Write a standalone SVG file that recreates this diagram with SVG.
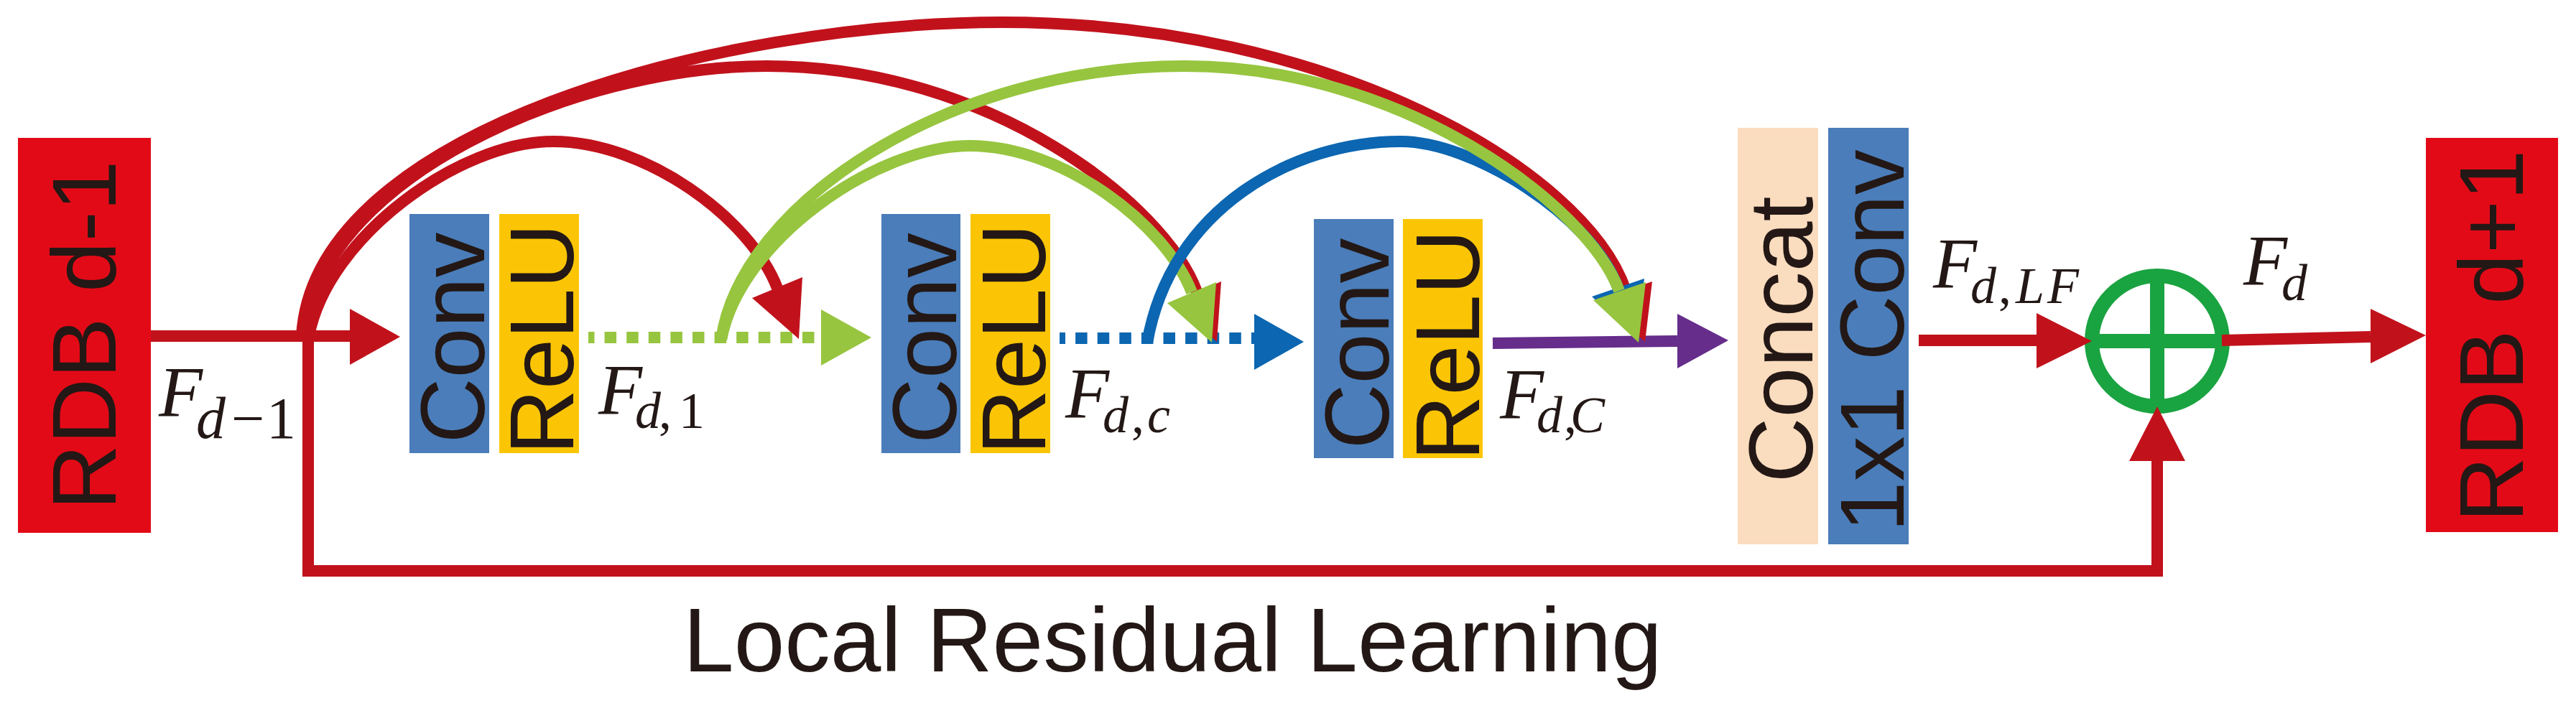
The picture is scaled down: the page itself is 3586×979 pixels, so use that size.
<svg xmlns="http://www.w3.org/2000/svg" width="3586" height="979" viewBox="0 0 3586 979">
<style>
.bred{fill:#E30A17}
.conv{fill:#4A7DBA}
.relu{fill:#FBC505}
.cat{fill:#FADCBE}
.lbl{font-family:"Liberation Sans",Arial,sans-serif;font-size:126px;fill:#231815}
.big{font-size:127px}
.m{font-family:"Liberation Serif","Times New Roman",serif;font-style:italic;fill:#231815;font-size:100px}
.s{font-size:72px}
.s2{font-size:82px}
.u{font-style:normal}
.cr{fill:none;stroke:#C1121C;stroke-width:16}
.cg{fill:none;stroke:#97C53F;stroke-width:16}
.cb{fill:none;stroke:#0C66B1;stroke-width:16}
.cp{fill:none;stroke:#662D8B;stroke-width:16}
.dot{stroke-dasharray:16.5 14.1}
.ar{fill:#C1121C}
.ag{fill:#97C53F}
.ab{fill:#0C66B1}
.ap{fill:#662D8B}
.sum{fill:none;stroke:#1AA341;stroke-width:20}
</style>

<g id="rdb-prev">
<rect class="bred" x="25" y="192" width="185" height="550"/>
<text class="lbl big" text-anchor="middle" transform="translate(161,467) rotate(-90)">RDB d-1</text>
</g>

<g id="conv1">
<rect class="conv" x="570" y="298" width="111" height="333"/>
<text class="lbl" text-anchor="middle" transform="translate(674,470.5) rotate(-90)">Conv</text>
</g>
<g id="relu1">
<rect class="relu" x="695" y="298" width="111" height="333"/>
<text class="lbl" text-anchor="middle" transform="translate(798,472) rotate(-90)">ReLU</text>
</g>

<g id="conv2">
<rect class="conv" x="1227" y="298" width="110" height="333"/>
<text class="lbl" text-anchor="middle" transform="translate(1331,471) rotate(-90)">Conv</text>
</g>
<g id="relu2">
<rect class="relu" x="1351" y="298" width="111" height="333"/>
<text class="lbl" text-anchor="middle" transform="translate(1455,472) rotate(-90)">ReLU</text>
</g>

<g id="conv3">
<rect class="conv" x="1829" y="305" width="111" height="333"/>
<text class="lbl" text-anchor="middle" transform="translate(1933,478.5) rotate(-90)">Conv</text>
</g>
<g id="relu3">
<rect class="relu" x="1953" y="305" width="111" height="333"/>
<text class="lbl" text-anchor="middle" transform="translate(2059,480.5) rotate(-90)">ReLU</text>
</g>

<g id="concat">
<rect class="cat" x="2419" y="178" width="112" height="580"/>
<text class="lbl" text-anchor="middle" transform="translate(2523,473) rotate(-90)">Concat</text>
</g>
<g id="conv1x1">
<rect class="conv" x="2545" y="178" width="112" height="580"/>
<text class="lbl" text-anchor="middle" transform="translate(2650,474.5) rotate(-90)">1x1 Conv</text>
</g>

<g id="sum">
<circle class="sum" cx="3003" cy="475" r="91"/>
<path class="sum" d="M3003,384 V566 M2912,475 H3094"/>
</g>

<g id="rdb-next">
<rect class="bred" x="3377" y="192" width="184" height="549"/>
<text class="lbl big" text-anchor="middle" transform="translate(3512,468) rotate(-90)">RDB d+1</text>
</g>

<g id="connectors">
<path class="cr" d="M210,468 H487"/>
<polygon class="ar" points="487,430 557,469 487,508"/>
<path class="cr" d="M429,468 V795 H3003 V642"/>
<polygon class="ar" points="2964,642 3042,642 3003,566"/>
<path class="cr" d="M2671,474 H2835"/>
<polygon class="ar" points="2835,436 2912,475 2835,513"/>
<path class="cr" d="M3093,474 L3300,469"/>
<polygon class="ar" points="3300,430 3377,467 3300,506"/>
<path class="cg dot" stroke-dashoffset="8" d="M819,470 H1143"/>
<polygon class="ag" points="1143,431 1213,470 1143,509"/>
<path class="cb dot" stroke-dashoffset="8.5" d="M1475,471 H1746"/>
<polygon class="ab" points="1746,437 1815,476 1746,515"/>
<path class="cp" d="M2078,478 L2335,475"/>
<polygon class="ap" points="2335,437 2406,474 2335,513"/>

<path class="cr" d="M420,468 C436,182 1000,31 1395,31 C1850,31 2205,235 2263,404"/>
<path class="cr" d="M425,468 C441,250 800,92 1067,92 C1380,92 1622,286 1666,406"/>
<path class="cr" d="M430,468 C456,330 640,197 770,197 C900,197 1045,305 1082,401"/>
<polygon class="ar" points="1047,415 1117,386 1112,472"/>
<polygon class="ar" points="1632,421 1700,392 1694,476"/>
<polygon class="ar" points="2227,417 2300,392 2290,476"/>
<path class="cg" d="M1004,473 C1030,335 1220,203 1350,203 C1480,203 1622,312 1659,407"/>
<polygon class="ag" points="1625,422 1693,393 1687,477"/>
<path class="cb" d="M1597,477 C1630,290 1800,197 1950,197 C2050,197 2215,300 2252,400"/>
<polygon class="ab" points="2216,413 2289,388 2279,472"/>
<path class="cg" d="M1004,473 C1030,285 1320,92 1650,92 C1950,92 2210,285 2254,405"/>
<polygon class="ag" points="2218,418 2291,393 2281,477"/>
</g>

<g id="labels">
<text class="m" x="221" y="579">F<tspan class="s2" x="273" y="610">d</tspan><tspan class="s2 u" x="322">−</tspan><tspan class="s2 u" x="371">1</tspan></text>
<text class="m" x="833" y="576">F<tspan class="s" x="884" y="596">d</tspan><tspan class="s u" x="917">,</tspan><tspan class="s u" x="945">1</tspan></text>
<text class="m" x="1483" y="581">F<tspan class="s" x="1535" y="602">d</tspan><tspan class="s u" x="1575">,</tspan><tspan class="s" x="1597">c</tspan></text>
<text class="m" x="2088" y="582">F<tspan class="s" x="2139" y="602">d</tspan><tspan class="s u" x="2177">,</tspan><tspan class="s" x="2186">C</tspan></text>
<text class="m" x="2691" y="400">F<tspan class="s" x="2743" y="422">d</tspan><tspan class="s u" x="2782">,</tspan><tspan class="s" x="2806">L</tspan><tspan class="s" x="2850">F</tspan></text>
<text class="m" x="3123" y="396">F<tspan class="s" x="3176" y="418">d</tspan></text>
<text class="lbl big" x="951" y="935">Local Residual Learning</text>
</g>
</svg>
